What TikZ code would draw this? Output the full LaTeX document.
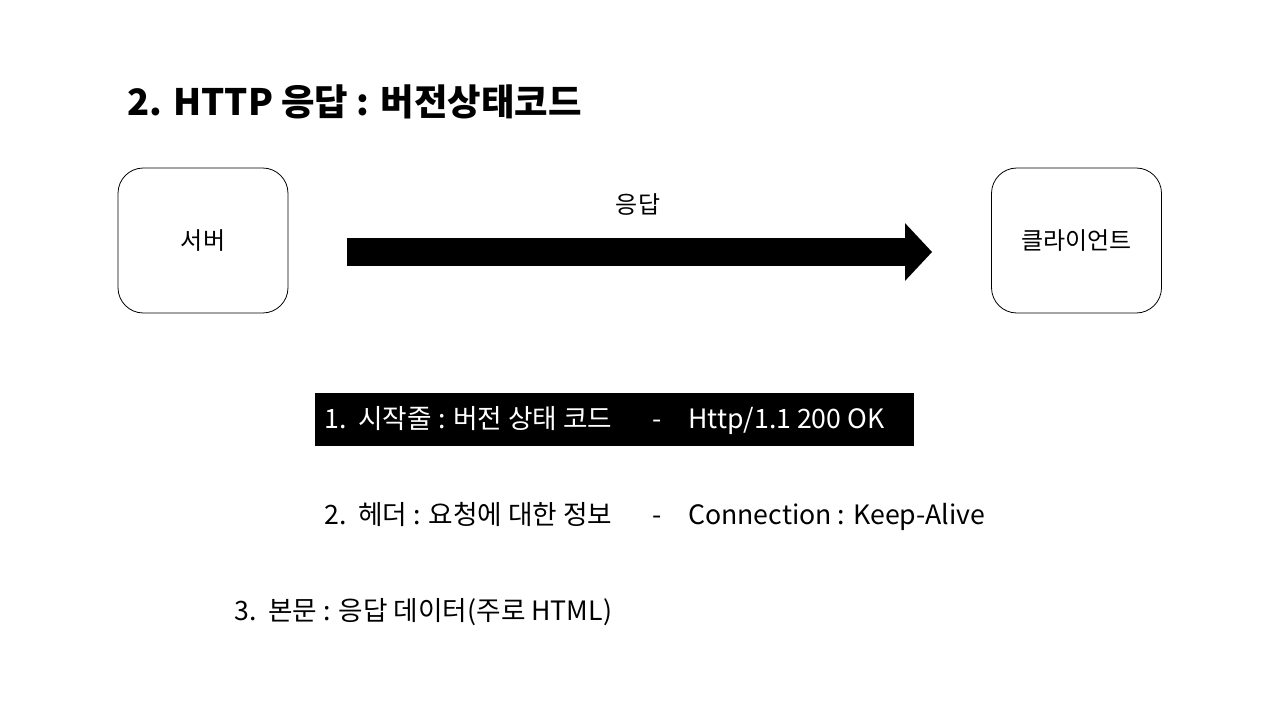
\documentclass[tikz,border=0pt]{standalone}
\usepackage{fontspec}
\setmainfont{Noto Sans CJK KR}
\usetikzlibrary{arrows.meta, positioning}

\tikzset{
  endbox/.style={draw, rounded corners=19pt, line width=0.6pt, minimum width=127.5pt, minimum height=108.75pt, font=\fontsize{18}{20}\selectfont},
  line/.style={anchor=base west, inner sep=0pt, font=\fontsize{20}{24}\selectfont},
  resparrow/.style={line width=21pt, -{Triangle[length=20.25pt, width=42pt]}}
}

\begin{document}
\begin{tikzpicture}[x=0.75pt, y=-0.75pt]
        \useasboundingbox (0,0) rectangle (1280,720);

        % Title
        \node[anchor=base west, inner sep=0pt, font=\fontsize{27.3}{32}\selectfont\bfseries] (title) at (127,116) {2. HTTP 응답 : 버전상태코드};

        % Server / Client
        \node[endbox] (srv) at (203,240.5) {서버};
        \node[endbox] (cli) at (1076.5,240.5) {클라이언트};

        % Response arrow
        \draw[resparrow] ([shift={(59,11.5)}]srv.east) -- ([shift={(-59,11.5)}]cli.west);
        \node[font=\fontsize{18}{20}\selectfont] (resp) at (638,205) {응답};

        % Start line (highlighted)
        \node[fill=black, minimum width=449.25pt, minimum height=39.75pt, inner sep=0pt] (bar) at (614.5,419.5) {};
        \node[line, white] (l1) at (324,428) {1.\ \ 시작줄 : 버전 상태 코드};
        \node[line, white] (d1) at (652,428) {-};
        \node[line, white] (v1) at (688,428) {Http/1.1 200 OK};

        % Header
        \node[line] (l2) at (324,524) {2.\ \ 헤더 : 요청에 대한 정보};
        \node[line] (d2) at (652,524) {-};
        \node[line] (v2) at (688,524) {Connection : Keep-Alive};

        % Body
        \node[line] (l3) at (234,620) {3.\ \ 본문 : 응답 데이터(주로 HTML)};
    \end{tikzpicture}
\end{document}
